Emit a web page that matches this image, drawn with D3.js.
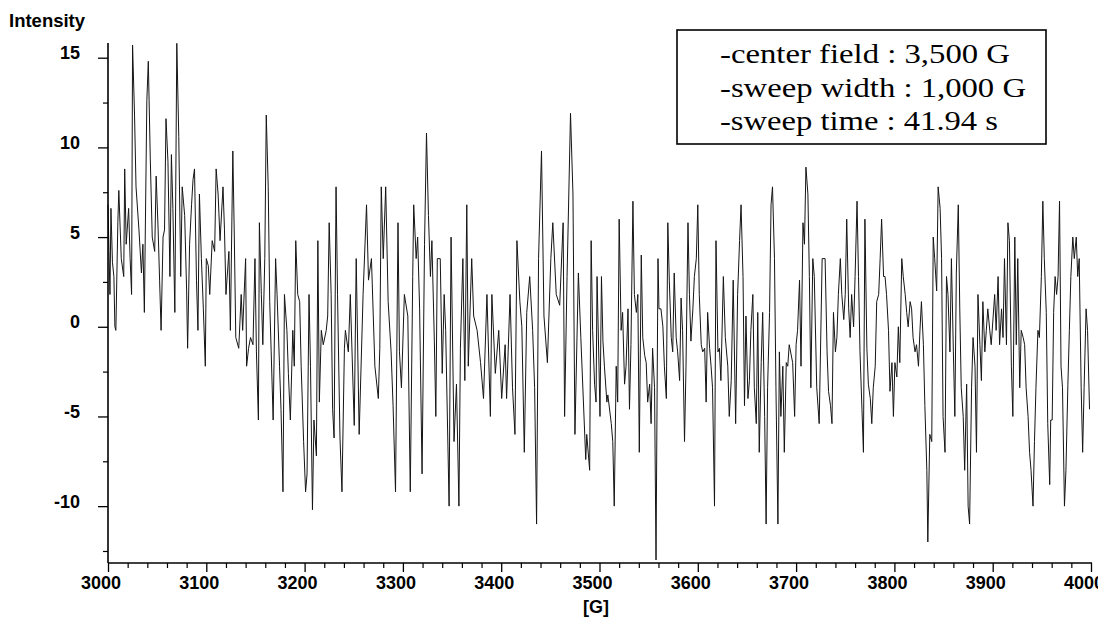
<!DOCTYPE html>
<html><head><meta charset="utf-8">
<script src="https://cdn.jsdelivr.net/npm/d3@7"></script>
<style>body{margin:0;background:#fff}svg{display:block}</style>
</head><body>
<svg id="c" width="1098" height="622"></svg>
<script>
// EPR trace, [field (G), intensity], by field range
const trace3000 = [[3000,6.8],[3001,4.2],[3002,1.8],[3003,6.6],[3004.5,3.6],[3006,2.8],[3007,0],[3008,-0.2],[3010,5.8],[3011,7.6],[3013.5,3.8],[3016,2.8],[3017,8.8],[3018.5,4.6],[3021,6.6],[3022.5,3.8],[3024,1.8],[3025,15.7],[3027,11.8],[3028.5,7.8],[3031.5,5.4],[3034,3],[3035.5,4.6],[3037,0.8],[3039.5,12.6],[3041,14.8],[3043,9.4],[3045,5],[3047.5,4.2],[3049,8.4],[3051,5.4],[3052.5,2.6],[3054,-0.2],[3056,5],[3057.5,5.4],[3059,11.6],[3061,9.2],[3063,2.8],[3064.5,9.6],[3066,6.6],[3068,0.8],[3070,15.8],[3072,10.6],[3074,2.8],[3075.5,7.8],[3078,6.2],[3080,2],[3081,-1.2],[3083,4.6],[3085,6.8],[3086.5,8.2],[3088,8.8],[3090,2.6],[3091.5,-0.2],[3093,7.4],[3095,3.8],[3097,1],[3099,-2.2],[3100,3.8],[3102,3.4],[3103.5,1.8],[3106,4.8],[3108.5,4.2],[3110,8.8],[3112,7.4],[3114,4.8],[3117,7.8],[3118.5,5.4],[3120,1.8],[3123,4.2],[3124.5,-0.2],[3127,9.8],[3128.5,5],[3130,-0.6],[3133,-1.2],[3135.5,1.8],[3137,-0.2],[3140,3.8],[3141,-2.2],[3143,-1.2],[3145,-0.6],[3147.5,-1],[3149.5,3.8],[3151,-1.4],[3153,-5.2],[3154,5.8],[3156,1.8],[3157.5,-1],[3159.5,3.8],[3161,11.8],[3163,7.8],[3164.5,1.4],[3166,-1.4],[3168,-5.2],[3170.5,3.8],[3172,1.8],[3174.5,-2.2],[3176,-4.6],[3178,-9.2],[3179.5,1.8],[3182,-0.2],[3183.5,-2.6],[3185.5,-5.2],[3188,-0.2],[3189.5,-2.2],[3191,4.8],[3193,1.8],[3195,1.4],[3196.5,-2.2],[3199,-6.4],[3201,-9.2],[3202.5,-8.2],[3204.5,1.8],[3206,-2.2],[3208,-10.2],[3209.5,-5.2],[3212,-7.2],[3213.5,4.8],[3215,-4.2],[3217,-0.2],[3219,-1],[3222,-0.2],[3223.5,0.6],[3225,5.8],[3227,1.8],[3228.5,-4.6],[3230,-6.2],[3232,7.8],[3233.5,1.8],[3236,-6.2],[3238,-9.2],[3240.5,-1.2]];
const trace3240 = [[3241.5,-0.2],[3244.5,-1.4],[3246.5,1.8],[3250.5,-5.5],[3252.5,3.8],[3255.5,-6],[3259.5,1.8],[3263,6.8],[3265,2.6],[3268,3.8],[3271.5,-2.2],[3275,-4],[3276.5,-1.2],[3278,7.8],[3280,3.8],[3282.5,7.8],[3285,1.4],[3288,-1.4],[3290,-4.4],[3292.5,-9.2],[3295,5.8],[3296.5,-1.4],[3298.5,-3.4],[3301.5,1.8],[3305,0.6],[3307.5,-9.2],[3310,2.8],[3311,6.8],[3313.5,3.8],[3315,5],[3317,1],[3319.5,-8.2],[3322,4.6],[3324,10.8],[3326,6.2],[3328,2.8],[3329.5,4.8],[3332,-0.8],[3333.5,-5],[3335,3.8],[3338,3.8],[3340,-2.6],[3342,1.8],[3343.5,-0.2],[3347,-10],[3349,5],[3352,-6.4],[3354.5,-3.2],[3357,-10],[3358.5,-1.2],[3361,3.8],[3363,-3],[3365,6.8],[3366.5,-2.2],[3370,3.8],[3372,0.6],[3375.5,-0.2],[3379,-2],[3382,-4],[3385.5,1.8],[3389,-5],[3390.5,1.8],[3394,-2.6],[3397.5,-0.2],[3400.5,-4],[3404,-1],[3405.5,-4],[3409,1.8],[3411.5,-3.4],[3414,-6],[3416,4.8],[3419,1.4],[3421,0],[3423.5,-7],[3426,0.8],[3429,2.8],[3432,-0.2],[3434,-3.4],[3436,-11],[3438,3.8],[3441,9.8],[3443.5,0.6],[3447,-2],[3450.5,3.8],[3452.5,5.8],[3456,1.8],[3459.5,1.2],[3463,5.8],[3464.5,-5],[3467,2.8],[3470.5,11.9],[3473,7.4],[3475,-6],[3478.5,3],[3481,-0.6],[3486,-7.4]];
const trace3485 = [[3487,-6],[3490,-8],[3491.5,4.8],[3493,-0.2],[3495,-3.2],[3496.5,-4.2],[3497.5,2.8],[3499.5,-2.2],[3500.5,-5],[3502,2.8],[3503.5,-0.8],[3505,-2.2],[3507.5,-4.2],[3508.5,-3.8],[3512,-5.4],[3513.5,-6.4],[3515,-10],[3517,-2.2],[3518.5,-4.2],[3520,6],[3522,-0.2],[3523.5,0.8],[3525.5,-3.2],[3527,-2.2],[3529,1],[3530.5,-4.6],[3532,-1],[3534,7],[3535.5,1.8],[3537.5,0.8],[3539,1.8],[3540.5,-7],[3542.5,4],[3544,-0.6],[3546,-1.6],[3547.5,-2],[3549,-4.2],[3551,-3.2],[3552.5,-5.4],[3554,-1.2],[3556,-3.4],[3557.5,-13],[3559.5,3.8],[3560.5,1],[3562.5,1],[3564.5,0],[3566,-2.2],[3568,-4],[3569.5,5.8],[3571,2.6],[3573,-0.6],[3574.5,-1.4],[3576,3],[3578,-0.6],[3579.5,-1.4],[3581.5,-3],[3583,1.6],[3584.5,-0.2],[3586.5,-6.4],[3588,-2.2],[3590,5.8],[3591.5,1.8],[3593,-0.8],[3595,1],[3596.5,2.8],[3598.5,3.8],[3600,6.8],[3601.5,1.8],[3603.5,-1],[3605,-1.4],[3607,-1.2],[3608.5,-4.2],[3610,0.8],[3612,-1.2],[3613.5,-2.2],[3615,-3.4],[3617,-10],[3618.5,4.8],[3620.5,-1.4],[3622,-1.2],[3623.5,-3],[3626,2.8],[3628,-0.6],[3630.5,-2.2],[3632,-5],[3634,-3],[3636,2.6],[3638.5,-5.4],[3640.5,1.8],[3642.5,4.8],[3644,6.8],[3646,2.8],[3647.5,-4.4],[3649,0.6],[3651,-4],[3652.5,-3],[3654,-0.2],[3656,1.8],[3657.5,-3.4],[3659.5,-5.4],[3661,0.8],[3662.5,-7],[3664.5,-2],[3666,0.8],[3668,-5],[3669.5,-11],[3671,-3.4],[3673,0.8],[3674.5,6.8],[3676,7.8],[3678,3.8],[3679.5,-3.4],[3681.5,-11],[3683,-1.4],[3684.5,-5],[3686.5,-2.2],[3688,-7],[3690,-2],[3691.5,-2.2],[3693,-1],[3696.5,-2],[3698.5,-5],[3700,-1],[3701.5,-0.2],[3703.5,2.6],[3705,-2.2],[3707,5.8],[3708.5,4.6],[3710,8.9],[3712,7.4],[3713.5,2.8],[3715,-3.4],[3717,3.8],[3718.5,2.8],[3721,-3.4],[3723.5,-5.4],[3726.5,3.8]];
const trace3728 = [[3729.5,3.8],[3731.5,-1.4],[3733,-3.6],[3735,-4.4],[3736.5,-5.4],[3738,0.8],[3740,-1.4],[3741.5,-0.6],[3743,1.8],[3745,3.8],[3746.5,1.8],[3748.5,0.4],[3750,1.8],[3751.5,6],[3753.5,1],[3755,-0.6],[3756.5,1.8],[3758.5,0],[3760,2.8],[3762,7],[3763.5,2.8],[3765,-1.4],[3767,-4.6],[3768.5,-7],[3770,6],[3772,-1.2],[3773.5,-3.2],[3775.5,-4],[3777,-5.4],[3778.5,-3.4],[3780.5,-2.2],[3782,1.4],[3784,1.8],[3785.5,3.8],[3787,6],[3789,2.8],[3790.5,2.8],[3792,1.8],[3794,-0.2],[3795.5,-3.6],[3797.5,-2],[3799,-5],[3800.5,-2],[3802.5,-2.8],[3804,0],[3805.5,-2],[3807.5,3.8],[3809,2.8],[3811,1.8],[3812.5,0.8],[3814,0],[3816,1.4],[3817.5,1],[3819,-0.6],[3821,-1.4],[3822.5,-1],[3824.5,-2.2],[3826,-0.2],[3827.5,1.4],[3829.5,-1],[3831,-4.4],[3833,-8],[3834,-12],[3836,-6],[3838,-6.4],[3839.5,5],[3841,3.8],[3843,2],[3844.5,7.8],[3846.5,6.6],[3848,3.8],[3849.5,-5],[3851.5,-7],[3853,2.8],[3854.5,1.8],[3856.5,-1.4],[3858,3.8],[3860,-1.4],[3861.5,-5],[3863,3],[3865,6.8],[3866.5,1],[3868,-3.4],[3870,-5],[3871.5,-8],[3873.5,-3.2],[3875,-10],[3876.5,-11],[3878.5,-3.4],[3880,-0.6],[3882,-2.2],[3883.5,-7],[3885,1.8],[3887,-1],[3888.5,-3],[3890,1.4],[3892,-1.4],[3893.5,-0.2],[3895,1],[3897,-0.2],[3898.5,-1],[3900.5,0.6],[3902,1.8],[3903.5,-0.2],[3905.5,2.8],[3907,-1],[3909,1],[3910.5,-0.6],[3912,3.8],[3914,-1],[3915.5,5.8],[3917,4.8],[3919,-2.2],[3920.5,-5],[3922.5,5],[3924,-1],[3925.5,3.8],[3927.5,-3.4],[3929,-0.2],[3931,-0.6],[3932.5,-1],[3934,-3.4],[3936,-5],[3937.5,-7],[3939,-8],[3941,-10],[3942.5,-6.4],[3944,-3.4],[3946,-0.2],[3947.5,-0.6],[3949.5,2.8],[3951,7],[3952.5,3.8],[3954.5,0.8],[3956,-5.4],[3958,-8.8],[3959,-5.2],[3960.5,-5.2],[3962,0.8],[3963.5,2.8],[3965,1.8],[3966.5,2.8],[3968,7],[3969.5,-2.2],[3971,-3.4],[3973,-10],[3974.5,-8],[3976.5,-3.2],[3978,-0.2],[3979.5,2.8],[3981.5,5],[3983,3.8],[3985,5],[3986.5,2.8],[3988,3.8],[3990,-3.4],[3991.5,-7],[3993,-3.4],[3995,1],[3996.5,-0.2],[3998.5,-4.6]];

const yMajorTicks = [-10, -5, 0, 5, 10, 15];
const yMinorTicks = [-12.5, -7.5, -2.5, 2.5, 7.5, 12.5];
const xMajorTicks = [3000, 3100, 3200, 3300, 3400, 3500, 3600, 3700, 3800, 3900, 4000];
const xTickLabels = ["3000", "3100", "3200", "3300", "3400", "3500", "3600", "3700", "3800", "3900", "4000"];
const xMinorStep = 20;
const yTitle = "Intensity";
const xTitle = "[G]";
const legendLines = ["-center field : 3,500 G", "-sweep width : 1,000 G", "-sweep time : 41.94 s"];

const trace = [].concat(trace3000, trace3240, trace3485, trace3728);
const svg = d3.select("#c");
const x = d3.scaleLinear().domain([3000, 4000]).range([108, 1091]);
const y = d3.scaleLinear().domain([-13.17, 15.82]).range([563, 43]);
const sans = '"Liberation Sans", Arial, Helvetica, sans-serif';

// trace
svg.append("path")
  .datum(trace)
  .attr("fill", "none")
  .attr("stroke", "#151515")
  .attr("stroke-width", 1)
  .attr("stroke-linejoin", "miter")
  .attr("d", d3.line().x(d => x(d[0])).y(d => y(d[1])));

// x axis
const xMinor = d3.range(3000, 4001, xMinorStep).filter(v => v % 100 !== 0);
const gx = svg.append("g").attr("transform", "translate(0,563)");
gx.call(d3.axisBottom(x).tickValues(xMajorTicks).tickSize(9).tickSizeOuter(0)
  .tickFormat((d, i) => xTickLabels[i]));
const gxm = svg.append("g").attr("transform", "translate(0,563)");
gxm.call(d3.axisBottom(x).tickValues(xMinor).tickSize(5).tickSizeOuter(0).tickFormat(""));
gxm.select(".domain").remove();
gx.select(".domain").attr("d", "M108,0H1092").attr("stroke-width", 1.6);
gx.selectAll(".tick line").attr("stroke-width", 1.3);
gxm.selectAll(".tick line").attr("stroke-width", 1.2);
gx.selectAll(".tick text")
  .attr("y", 26).attr("dy", 0).attr("dx", -7.5)
  .attr("font-family", sans).attr("font-weight", "bold").attr("font-size", 18).attr("fill", "#000");

// y axis
const gy = svg.append("g").attr("transform", "translate(108,0)");
gy.call(d3.axisLeft(y).tickValues(yMajorTicks).tickSize(10).tickSizeOuter(0).tickFormat(d3.format("d")));
const gym = svg.append("g").attr("transform", "translate(108,0)");
gym.call(d3.axisLeft(y).tickValues(yMinorTicks).tickSize(5).tickSizeOuter(0).tickFormat(""));
gym.select(".domain").remove();
gy.select(".domain").attr("d", "M0,43V563").attr("stroke-width", 1.6);
gy.selectAll(".tick line").attr("stroke-width", 1.3);
gym.selectAll(".tick line").attr("stroke-width", 1.2);
gy.selectAll(".tick text")
  .attr("x", -28).attr("dy", "0.06em")
  .text(d => d < 0 ? "-" + Math.abs(d) : d)
  .attr("font-family", sans).attr("font-weight", "bold").attr("font-size", 18).attr("fill", "#000");

// titles
svg.append("text").attr("x", 9).attr("y", 26.5).text(yTitle)
  .attr("font-family", sans).attr("font-weight", "bold").attr("font-size", 18.5);
svg.append("text").attr("x", 596).attr("y", 613).attr("text-anchor", "middle").text(xTitle)
  .attr("font-family", sans).attr("font-weight", "bold").attr("font-size", 18);

// legend box
svg.append("rect").attr("x", 677).attr("y", 30).attr("width", 369).attr("height", 114)
  .attr("fill", "#fff").attr("stroke", "#000").attr("stroke-width", 1.6);
const legendWidths = [290, 306, 278];
svg.selectAll("text.leg").data(legendLines).join("text")
  .attr("class", "leg")
  .attr("x", 720)
  .attr("y", (d, i) => 63 + i * 33.5)
  .attr("font-family", '"Liberation Serif", "Times New Roman", serif')
  .attr("font-size", 27)
  .attr("textLength", (d, i) => legendWidths[i])
  .attr("lengthAdjust", "spacingAndGlyphs")
  .text(d => d);
</script>
</body></html>
